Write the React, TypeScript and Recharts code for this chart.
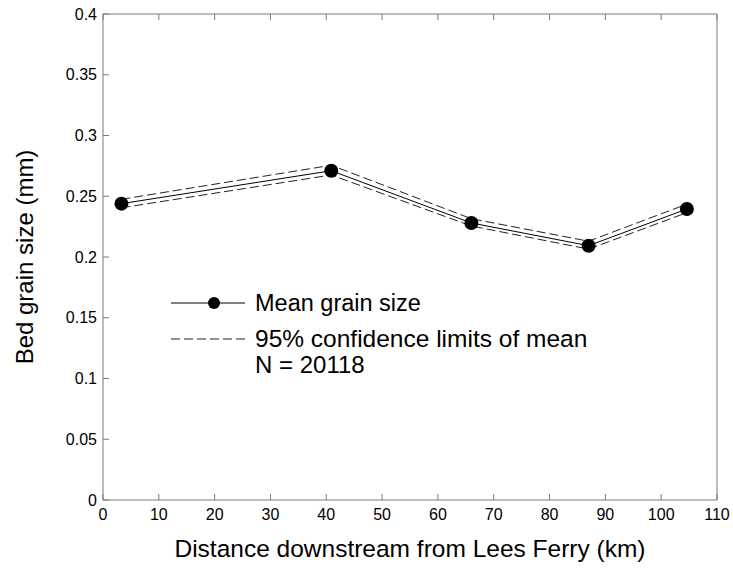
import React from "react";
import { LineChart, Line, XAxis, YAxis, Legend } from "recharts";

const distanceKm = [3.3, 40.9, 66.0, 87.0, 104.6];
const meanGrain = [0.2439, 0.271, 0.228, 0.2093, 0.2395];
const upperLimit = [0.2475, 0.2755, 0.2315, 0.213, 0.2435];
const lowerLimit = [0.2405, 0.2675, 0.2255, 0.2065, 0.2365];
const xTicks = [0, 10, 20, 30, 40, 50, 60, 70, 80, 90, 100, 110];
const yTicks = [0, 0.05, 0.1, 0.15, 0.2, 0.25, 0.3, 0.35, 0.4];

const data = distanceKm.map((d, i) => ({
  d,
  mean: meanGrain[i],
  upper: upperLimit[i],
  lower: lowerLimit[i],
}));

const FONT = "'Liberation Sans', Arial, Helvetica, sans-serif";
const AXIS_COLOR = "#7a7a7a";

const fmtY = (v: number) => String(parseFloat(v.toFixed(2)));
const blank = () => "";

const LegendBox = () => (
  <svg width={470} height={95} style={{ display: "block" }}>
    <line x1={0} y1={12} x2={74} y2={12} stroke="#000" strokeWidth={1} />
    <circle cx={43} cy={12} r={6} fill="#000" />
    <text x={84} y={20} fontSize={23.5} fontFamily={FONT} fill="#000">
      Mean grain size
    </text>
    <line x1={0} y1={48} x2={74} y2={48} stroke="#222" strokeWidth={1} strokeDasharray="9 4" />
    <text x={84} y={56} fontSize={24.5} fontFamily={FONT} fill="#000">
      95% confidence limits of mean
    </text>
    <text x={84} y={82} fontSize={24} fontFamily={FONT} fill="#000">
      N = 20118
    </text>
  </svg>
);

export default function App() {
  return (
    <div style={{ position: "absolute", left: 0, top: 0, width: 733, height: 568, background: "#fff" }}>
      <LineChart
        width={733}
        height={568}
        data={data}
        margin={{ top: 13, right: 15, bottom: 8, left: 43 }}
        style={{ fontFamily: FONT }}
      >
        <XAxis
          dataKey="d"
          type="number"
          domain={[0, 110]}
          ticks={xTicks}
          interval={0}
          height={60}
          tickSize={-6}
          tickMargin={15}
          stroke={AXIS_COLOR}
          tick={{ fill: "#000", fontSize: 16 }}
          label={{
            value: "Distance downstream from Lees Ferry (km)",
            position: "insideBottom",
            offset: 3,
            fill: "#000",
            fontSize: 24.5,
          }}
        />
        <XAxis
          xAxisId="top"
          dataKey="d"
          type="number"
          orientation="top"
          domain={[0, 110]}
          ticks={xTicks}
          interval={0}
          height={1}
          tickSize={-6}
          tickFormatter={blank}
          stroke={AXIS_COLOR}
        />
        <YAxis
          type="number"
          domain={[0, 0.4]}
          ticks={yTicks}
          interval={0}
          width={60}
          tickSize={-6}
          tickMargin={12}
          tickFormatter={fmtY}
          stroke={AXIS_COLOR}
          tick={{ fill: "#000", fontSize: 16 }}
          label={{
            value: "Bed grain size (mm)",
            angle: -90,
            position: "insideLeft",
            offset: -19,
            style: { textAnchor: "middle" },
            fill: "#000",
            fontSize: 24,
          }}
        />
        <YAxis
          yAxisId="right"
          type="number"
          orientation="right"
          domain={[0, 0.4]}
          ticks={yTicks}
          interval={0}
          width={1}
          tickSize={-6}
          tickFormatter={blank}
          stroke={AXIS_COLOR}
        />
        <Line
          dataKey="upper"
          stroke="#222"
          strokeWidth={1}
          strokeDasharray="9 4"
          dot={false}
          isAnimationActive={false}
        />
        <Line
          dataKey="lower"
          stroke="#222"
          strokeWidth={1}
          strokeDasharray="9 4"
          dot={false}
          isAnimationActive={false}
        />
        <Line
          dataKey="mean"
          stroke="#000"
          strokeWidth={1}
          dot={{ r: 7, fill: "#000", stroke: "#000", strokeWidth: 0 }}
          isAnimationActive={false}
        />
        <Legend
          layout="vertical"
          verticalAlign="middle"
          align="center"
          content={() => <LegendBox />}
          wrapperStyle={{ left: 171, top: 291, width: 470, height: 95 }}
        />
      </LineChart>
    </div>
  );
}
